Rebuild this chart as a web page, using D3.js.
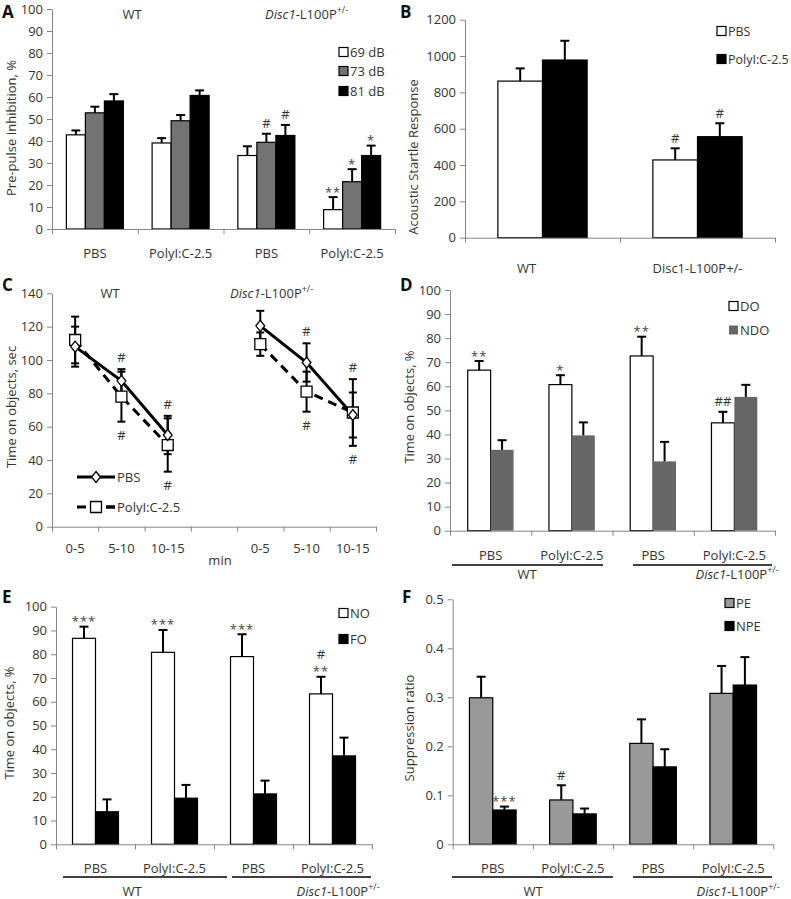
<!DOCTYPE html>
<html><head><meta charset="utf-8">
<script src="https://cdn.jsdelivr.net/npm/d3@7"></script>
<style>
body{margin:0;background:#fff}
svg text{font-family:"Open Sans",sans-serif}
</style>
</head><body>
<svg id="chart" width="791" height="899"></svg>
<script>
// ---------------- DATA ----------------
// Panel A: pre-pulse inhibition
const aCategories = ["PBS", "PolyI:C-2.5", "PBS", "PolyI:C-2.5"];
const aSeries = ["69 dB", "73 dB", "81 dB"];
const aMeans = [[42.8, 52.8, 58.2], [39.1, 49.2, 60.7], [33.4, 39.4, 42.5], [8.8, 21.5, 33.4]];
const aErrors = [[2.0, 2.8, 3.1], [2.2, 2.6, 2.3], [4.2, 3.9, 4.8], [5.7, 5.7, 4.5]];
const aMarks = [[[], [], []], [[], [], []], [[], ["#"], ["#"]], [["**"], ["*"], ["*"]]];
const aTicks = [0, 10, 20, 30, 40, 50, 60, 70, 80, 90, 100];

// Panel B: acoustic startle response
const bCategories = ["WT", "Disc1-L100P+/-"];
const bSeries = ["PBS", "PolyI:C-2.5"];
const bMeans = [[862, 978], [428, 556]];
const bErrors = [[70, 106], [64, 74]];
const bMarks = [[[], []], [["#"], ["#"]]];
const bTicks = [0, 200, 400, 600, 800, 1000, 1200];

// Panel C: time on objects (sec) per time bin
const cTimes = ["0-5", "5-10", "10-15"];
const cSeries = ["PBS", "PolyI:C-2.5"];
const cWtPbsMean = [108, 87.5, 55];
const cWtPbsErr = [12, 7, 11.5];
const cWtPolyMean = [112, 78, 49];
const cWtPolyErr = [14, 15, 16];
const cDiscPbsMean = [120.5, 98.5, 67];
const cDiscPbsErr = [9, 11.5, 13.5];
const cDiscPolyMean = [109.5, 81, 68.5];
const cDiscPolyErr = [7, 12, 20];
const cMarksAbove = [["", "#", "#"], ["", "#", "#"]];
const cMarksBelow = [["", "#", "#"], ["", "#", "#"]];
const cTicks = [0, 20, 40, 60, 80, 100, 120, 140];

// Panel D: DO / NDO
const dCategories = ["PBS", "PolyI:C-2.5", "PBS", "PolyI:C-2.5"];
const dSeries = ["DO", "NDO"];
const dMeans = [[66.7, 33.6], [60.7, 39.6], [72.6, 28.8], [44.8, 55.6]];
const dErrors = [[3.8, 4.0], [3.9, 5.4], [8.0, 8.1], [4.6, 5.0]];
const dMarks = [[["**"], []], [["*"], []], [["**"], []], [["##"], []]];
const dTicks = [0, 10, 20, 30, 40, 50, 60, 70, 80, 90, 100];

// Panel E: NO / FO
const eCategories = ["PBS", "PolyI:C-2.5", "PBS", "PolyI:C-2.5"];
const eSeries = ["NO", "FO"];
const eMeans = [[86.7, 13.7], [80.8, 19.4], [79.0, 21.2], [63.3, 37.2]];
const eErrors = [[4.9, 5.2], [9.4, 5.6], [9.4, 5.6], [7.2, 7.7]];
const eMarks = [[["***"], []], [["***"], []], [["***"], []], [["**", "#"], []]];
const eTicks = [0, 10, 20, 30, 40, 50, 60, 70, 80, 90, 100];

// Panel F: suppression ratio
const fCategories = ["PBS", "PolyI:C-2.5", "PBS", "PolyI:C-2.5"];
const fSeries = ["PE", "NPE"];
const fMeans = [[0.299, 0.070], [0.0905, 0.062], [0.206, 0.158], [0.308, 0.325]];
const fErrors = [[0.043, 0.007], [0.030, 0.011], [0.049, 0.036], [0.056, 0.057]];
const fMarks = [[[], ["***"]], [["#"], []], [[], []], [[], []]];
const fTicks = [0, 0.1, 0.2, 0.3, 0.4, 0.5];

const genotypes = ["WT", "Disc1-L100P+/-"];

// ---------------- DRAWING ----------------
const svg = d3.select("#chart");
const AXIS = "#868686";
const TXT = "#333333";
const FS = "13px";

function styleAxis(g) {
  g.select(".domain").attr("stroke", AXIS);
  g.selectAll(".tick line").attr("stroke", AXIS);
  g.selectAll(".tick text").attr("fill", TXT).attr("font-size", FS)
    .attr("font-family", '"Open Sans", sans-serif');
}

function txt(g, x, y, s, anchor, size) {
  return g.append("text").attr("x", x).attr("y", y).attr("text-anchor", anchor || "middle")
    .attr("dominant-baseline", "central").attr("fill", TXT).attr("font-size", size || FS).text(s);
}

// genotype label: italic gene name + superscript
function genoLabel(g, x, y, s, anchor, plain) {
  if (plain || s === "WT") return txt(g, x, y, s, anchor);
  const t = g.append("text").attr("x", x).attr("y", y).attr("text-anchor", anchor || "middle")
    .attr("dominant-baseline", "central").attr("fill", TXT).attr("font-size", FS);
  const m = s.match(/^(Disc1)(-L100P)(.*)$/);
  t.append("tspan").attr("font-style", "italic").text(m[1]);
  t.append("tspan").text(m[2]);
  t.append("tspan").attr("font-size", "9px").attr("dy", "-5").text(m[3]);
  return t;
}

function panelLetter(x, y, s) {
  svg.append("text").attr("x", x).attr("y", y).attr("font-family", "Arial, 'Liberation Sans', sans-serif")
    .attr("font-weight", "bold").attr("font-size", "17px").attr("fill", "#111").text(s);
}

function yTitle(x, y, s) {
  svg.append("text").attr("transform", `translate(${x},${y}) rotate(-90)`)
    .attr("text-anchor", "middle").attr("dominant-baseline", "central")
    .attr("fill", TXT).attr("font-size", FS).text(s);
}

function drawMarks(g, marks, cx, yTop) {
  let base = yTop;
  marks.forEach((m, k) => {
    const isStar = m.indexOf("*") >= 0;
    const yb = k === 0 ? (isStar ? yTop + 0.5 : yTop - 4.5) : base - 17;
    g.append("text").attr("x", cx).attr("y", yb).attr("text-anchor", "middle")
      .attr("fill", isStar ? "#444" : TXT).attr("font-size", FS)
      .attr("letter-spacing", isStar ? "1px" : "0px").text(m);
    base = yb;
  });
}

function barPanel(o) {
  const g = svg.append("g");
  const n = o.cats.length;
  const x = d3.scaleBand().domain(d3.range(n)).range(o.xRange).paddingInner(o.pad).paddingOuter(o.pad / 2);
  const xs = d3.scaleBand().domain(d3.range(o.series.length)).range([0, x.bandwidth()]);
  const y = d3.scaleLinear().domain(o.yDomain).range(o.yRange);

  // bars
  o.means.forEach((row, i) => row.forEach((v, j) => {
    g.append("rect").attr("x", x(i) + xs(j)).attr("y", y(v))
      .attr("width", xs.bandwidth()).attr("height", y(0) - y(v))
      .attr("fill", o.fills[j]).attr("stroke", o.strokes[j]).attr("stroke-width", 1.2);
  }));
  // error bars + marks
  o.means.forEach((row, i) => row.forEach((v, j) => {
    const cx = x(i) + xs(j) + xs.bandwidth() / 2;
    const yt = y(v + o.errs[i][j]);
    g.append("line").attr("x1", cx).attr("x2", cx).attr("y1", y(v)).attr("y2", yt)
      .attr("stroke", "#000").attr("stroke-width", 2);
    g.append("line").attr("x1", cx - 4.5).attr("x2", cx + 4.5).attr("y1", yt).attr("y2", yt)
      .attr("stroke", "#000").attr("stroke-width", 2);
    drawMarks(g, o.marks[i][j], cx, yt - 1);
  }));

  // axes
  const ya = g.append("g").attr("transform", `translate(${o.xRange[0]},0)`)
    .call(d3.axisLeft(y).tickValues(o.yTicks).tickSize(5).tickSizeOuter(0).tickPadding(4)
      .tickFormat(o.fmt || (d => d)));
  styleAxis(ya);
  const xl = d3.scaleLinear().domain([0, n]).range(o.xRange);
  const xa = g.append("g").attr("transform", `translate(0,${o.yRange[0]})`)
    .call(d3.axisBottom(xl).tickValues(d3.range(n + 1)).tickSize(5).tickSizeOuter(0).tickFormat(""));
  styleAxis(xa);

  // category labels
  o.cats.forEach((c, i) => genoLabel(g, x(i) + x.bandwidth() / 2 + (o.catShift ? o.catShift[i] : 0), o.catY, c, "middle", true));

  // legend
  o.series.forEach((s, j) => {
    g.append("rect").attr("x", o.legX).attr("y", o.legY[j] - 4.5).attr("width", 9).attr("height", 9)
      .attr("fill", o.fills[j]).attr("stroke", o.legStrokes ? o.legStrokes[j] : "#000").attr("stroke-width", 1.2);
    txt(g, o.legX + 11, o.legY[j], s, "start", o.legFS);
  });

  // groups
  if (o.groups) {
    o.groups.forEach((gr, k) => {
      g.append("line").attr("x1", gr.x1).attr("x2", gr.x2).attr("y1", o.groupLineY).attr("y2", o.groupLineY)
        .attr("stroke", "#000").attr("stroke-width", 1.6);
      genoLabel(g, gr.tx, o.groupTextY, genotypes[k], "middle");
    });
  }
  return {x, y, g};
}

// ---- Panel A ----
panelLetter(2, 18, "A");
barPanel({
  cats: aCategories, series: aSeries, means: aMeans, errs: aErrors, marks: aMarks,
  yTicks: aTicks, yDomain: [0, 100], xRange: [52, 395], yRange: [229, 9], pad: 0.335,
  fills: ["#ffffff", "#737373", "#000000"], strokes: ["#000", "#000", "#000"],
  catY: 253, legX: 339, legY: [52, 71, 91]
});
txt(svg, 132, 14, "WT");
genoLabel(svg, 265, 14, genotypes[1], "start");
yTitle(11, 128, "Pre-pulse Inhibition, %");

// ---- Panel B ----
panelLetter(400, 18, "B");
barPanel({
  cats: bCategories, series: bSeries, means: bMeans, errs: bErrors, marks: bMarks,
  yTicks: bTicks, yDomain: [0, 1200], xRange: [465, 775], yRange: [237.7, 19.7], pad: 0.424,
  fills: ["#ffffff", "#000000"], strokes: ["#000", "#000"],
  catY: 268, catShift: [-16, 0], legX: 717, legY: [31, 59], legFS: "12.5px"
});
yTitle(413, 157, "Acoustic Startle Response");

// ---- Panel C ----
panelLetter(2, 291, "C");
(function () {
  const g = svg.append("g");
  const keys = [];
  genotypes.forEach((gt, k) => {
    cTimes.forEach(t => keys.push(gt + "|" + t));
    if (k === 0) keys.push("gap");
  });
  const x = d3.scaleBand().domain(keys).range([52, 376]);
  const y = d3.scaleLinear().domain([0, 140]).range([526.7, 293.3]);
  const cx = k => x(k) + x.bandwidth() / 2;
  const groups = [
    {gt: genotypes[0], pm: cWtPbsMean, pe: cWtPbsErr, qm: cWtPolyMean, qe: cWtPolyErr},
    {gt: genotypes[1], pm: cDiscPbsMean, pe: cDiscPbsErr, qm: cDiscPolyMean, qe: cDiscPolyErr}
  ];
  const diamond = {draw(ctx, size) { const h = Math.sqrt(size) / 2; const w = h * 0.8;
    ctx.moveTo(0, -h); ctx.lineTo(w, 0); ctx.lineTo(0, h); ctx.lineTo(-w, 0); ctx.closePath(); }};
  const sym = [d3.symbol().type(diamond).size(121)(), d3.symbol().type(d3.symbolSquare).size(120)()];

  groups.forEach((gr, k) => {
    const ks = cTimes.map(t => gr.gt + "|" + t);
    // error bars
    [[gr.pm, gr.pe], [gr.qm, gr.qe]].forEach(([m, e]) => {
      m.forEach((v, i) => {
        const xx = cx(ks[i]);
        g.append("line").attr("x1", xx).attr("x2", xx).attr("y1", y(v - e[i])).attr("y2", y(v + e[i]))
          .attr("stroke", "#000").attr("stroke-width", 2);
        [v - e[i], v + e[i]].forEach(w => g.append("line").attr("x1", xx - 4).attr("x2", xx + 4)
          .attr("y1", y(w)).attr("y2", y(w)).attr("stroke", "#000").attr("stroke-width", 2));
      });
    });
    // lines
    const line = d3.line().x((d, i) => cx(ks[i])).y(d => y(d));
    g.append("path").attr("d", line(gr.qm)).attr("fill", "none").attr("stroke", "#000")
      .attr("stroke-width", 3).attr("stroke-dasharray", "9,6");
    g.append("path").attr("d", line(gr.pm)).attr("fill", "none").attr("stroke", "#000").attr("stroke-width", 3);
    // markers
    gr.qm.forEach((v, i) => g.append("path").attr("d", sym[1]).attr("transform", `translate(${cx(ks[i])},${y(v)})`)
      .attr("fill", "#fff").attr("stroke", "#000").attr("stroke-width", 1.3));
    gr.pm.forEach((v, i) => g.append("path").attr("d", sym[0]).attr("transform", `translate(${cx(ks[i])},${y(v)})`)
      .attr("fill", "#fff").attr("stroke", "#000").attr("stroke-width", 1.3));
    // # marks
    cTimes.forEach((t, i) => {
      const xx = cx(ks[i]);
      if (cMarksAbove[k][i]) {
        const top = Math.max(gr.pm[i] + gr.pe[i], gr.qm[i] + gr.qe[i]);
        g.append("text").attr("x", xx).attr("y", y(top) - 7).attr("text-anchor", "middle")
          .attr("fill", TXT).attr("font-size", FS).text(cMarksAbove[k][i]);
      }
      if (cMarksBelow[k][i]) {
        const bot = Math.min(gr.pm[i] - gr.pe[i], gr.qm[i] - gr.qe[i]);
        g.append("text").attr("x", xx).attr("y", y(bot) + 18).attr("text-anchor", "middle")
          .attr("fill", TXT).attr("font-size", FS).text(cMarksBelow[k][i]);
      }
    });
    // tick labels
    cTimes.forEach((t, i) => txt(g, cx(ks[i]), 548, t));
  });

  const ya = g.append("g").attr("transform", "translate(52,0)")
    .call(d3.axisLeft(y).tickValues(cTicks).tickSize(5).tickSizeOuter(0).tickPadding(4));
  styleAxis(ya);
  const xl = d3.scaleLinear().domain([0, keys.length]).range([52, 376]);
  const xa = g.append("g").attr("transform", "translate(0,526.7)")
    .call(d3.axisBottom(xl).tickValues(d3.range(keys.length + 1)).tickSize(5).tickSizeOuter(0).tickFormat(""));
  styleAxis(xa);
  txt(g, 220, 560, "min");
  txt(g, 110, 293, genotypes[0]);
  genoLabel(g, 230, 293, genotypes[1], "start");

  // legend
  g.append("line").attr("x1", 77).attr("x2", 115).attr("y1", 477).attr("y2", 477).attr("stroke", "#000").attr("stroke-width", 3);
  g.append("path").attr("d", sym[0]).attr("transform", "translate(96,477)").attr("fill", "#fff").attr("stroke", "#000").attr("stroke-width", 1.3);
  txt(g, 117, 477, cSeries[0], "start");
  g.append("line").attr("x1", 77).attr("x2", 115).attr("y1", 507).attr("y2", 507).attr("stroke", "#000")
    .attr("stroke-width", 3).attr("stroke-dasharray", "9,20");
  g.append("line").attr("x1", 106).attr("x2", 115).attr("y1", 507).attr("y2", 507).attr("stroke", "#000").attr("stroke-width", 3);
  g.append("path").attr("d", sym[1]).attr("transform", "translate(96,507)").attr("fill", "#fff").attr("stroke", "#000").attr("stroke-width", 1.3);
  txt(g, 117, 507, cSeries[1], "start");
})();
yTitle(11, 407, "Time on objects, sec");

// ---- Panel D ----
panelLetter(400, 291, "D");
barPanel({
  cats: dCategories, series: dSeries, means: dMeans, errs: dErrors, marks: dMarks,
  yTicks: dTicks, yDomain: [0, 100], xRange: [450, 775], yRange: [530.7, 290], pad: 0.436,
  fills: ["#ffffff", "#666666"], strokes: ["#000", "none"], legStrokes: ["#000", "none"],
  catY: 555, legX: 729, legY: [306, 330],
  groups: [{x1: 452, x2: 603, tx: 527}, {x1: 633, x2: 772, tx: 737}], groupLineY: 565, groupTextY: 574
});
yTitle(409, 407, "Time on objects, %");

// ---- Panel E ----
panelLetter(2, 603, "E");
barPanel({
  cats: eCategories, series: eSeries, means: eMeans, errs: eErrors, marks: eMarks,
  yTicks: eTicks, yDomain: [0, 100], xRange: [56, 372], yRange: [844.3, 606.7], pad: 0.418,
  fills: ["#ffffff", "#000000"], strokes: ["#000", "#000"],
  catY: 868, legX: 339, legY: [613, 639],
  groups: [{x1: 63, x2: 227, tx: 132}, {x1: 232, x2: 371, tx: 338}], groupLineY: 877, groupTextY: 891
});
yTitle(9, 723, "Time on objects, %");

// ---- Panel F ----
panelLetter(402, 603, "F");
barPanel({
  cats: fCategories, series: fSeries, means: fMeans, errs: fErrors, marks: fMarks,
  yTicks: fTicks, yDomain: [0, 0.5], xRange: [452.7, 773.3], yRange: [844.3, 599.3], pad: 0.418,
  fills: ["#999999", "#000000"], strokes: ["#000", "#000"],
  fmt: d => String(d),
  catY: 868, legX: 725, legY: [603, 626],
  groups: [{x1: 452, x2: 613, tx: 533}, {x1: 633, x2: 772, tx: 738}], groupLineY: 877, groupTextY: 891
});
yTitle(409, 728, "Suppression ratio");
</script>
</body></html>
